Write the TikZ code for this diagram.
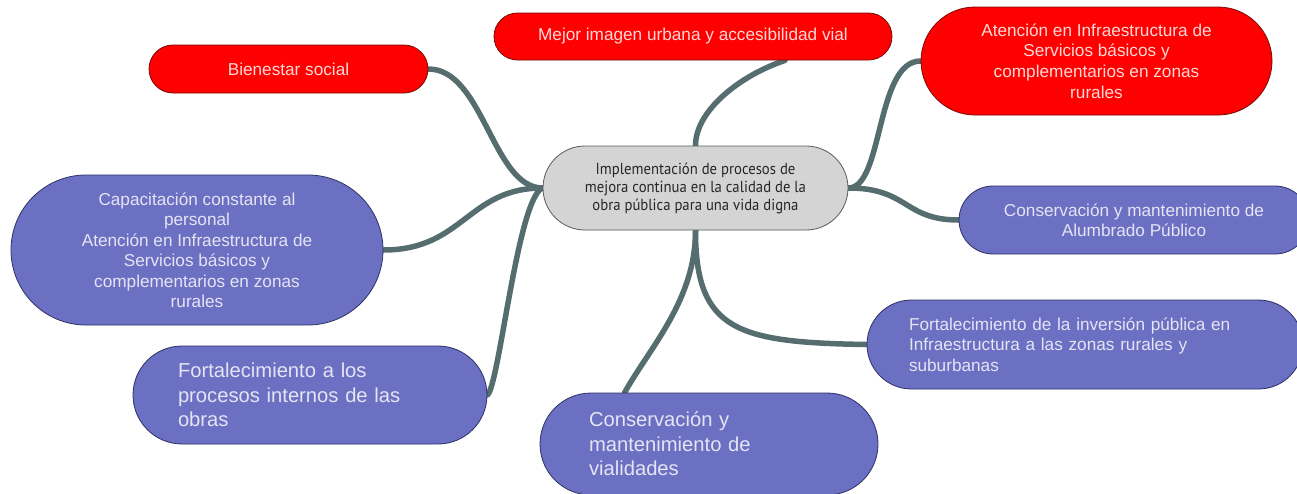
\documentclass[tikz,border=0pt]{standalone}
\usepackage{fontspec}
\setmainfont{Liberation Sans}
\newfontfamily\condfont[FakeStretch=0.92]{PT Sans}
\usetikzlibrary{calc,backgrounds}
\definecolor{redfill}{HTML}{FF0000}
\definecolor{redborder}{HTML}{7A0A0A}
\definecolor{redtext}{HTML}{FFD8D8}
\definecolor{bluefill}{HTML}{6B70C2}
\definecolor{blueborder}{HTML}{2E3166}
\definecolor{bluetext}{HTML}{E4E4F4}
\definecolor{greyfill}{HTML}{D4D4D4}
\definecolor{greyborder}{HTML}{5A5A5A}
\definecolor{linkcol}{HTML}{566D70}
\tikzset{
  pill/.style 2 args={rectangle, rounded corners=#2/2, minimum width=#1, minimum height=#2, inner sep=0pt},
  rednode/.style={draw=redborder, line width=0.8pt, fill=redfill, text=redtext, align=center, font=\fontsize{17.2}{20.8}\selectfont},
  bluenode/.style={draw=blueborder, line width=0.8pt, fill=bluefill, text=bluetext, font=\fontsize{17.2}{20.5}\selectfont},
  bigblue/.style={draw=blueborder, line width=0.8pt, fill=bluefill, text=bluetext, font=\fontsize{20.2}{24.5}\selectfont},
  centernode/.style={draw=greyborder, line width=0.8pt, fill=greyfill, text=black!85, align=center, font=\condfont\fontsize{16}{18}\selectfont},
  conn/.style={draw=linkcol, line width=5.5pt, line cap=round}
}
\begin{document}
\begin{tikzpicture}[x=1pt, y=-1pt]
\useasboundingbox (0,0) rectangle (1297,493);
% nodes
\node[pill={305}{84}, centernode] (c) at (695.5,188) {Implementación de procesos de\\mejora continua en la calidad de la\\obra pública para una vida digna};
\node[pill={279}{48}, rednode] (bs) at (288.5,69) {Bienestar social};
\node[pill={398}{47}, rednode] (mi) at (693,36.5) {Mejor imagen urbana y accesibilidad vial};
\node[pill={351}{108}, rednode] (at) at (1096.5,61) {Atención en Infraestructura de\\Servicios básicos y\\complementarios en zonas\\rurales};
\node[pill={372}{150}, bluenode, align=center] (cp) at (197,250) {Capacitación constante al\\personal\\Atención en Infraestructura de\\Servicios básicos y\\complementarios en zonas\\rurales};
\node[pill={350}{68}, bluenode, align=center] (al) at (1134,220) {Conservación y mantenimiento de\\Alumbrado Público};
\node[pill={436}{89}, bluenode, text width=352pt, align=left] (inv) at (1085,344.5) {Fortalecimiento de la inversión pública en\\Infraestructura a las zonas rurales y\\suburbanas};
\node[pill={354}{98}, bigblue, text width=264pt, align=left] (pr) at (310,395) {Fortalecimiento a los\\procesos internos de las\\obras};
\node[pill={338}{102}, bigblue, text width=240pt, align=left] (vi) at (709,444) {Conservación y\\mantenimiento de\\vialidades};
% connectors
\coordinate (miend) at ($(mi.south)+(92,0)$);
\coordinate (viend) at ($(vi.north west)+(85,0)$);
\begin{scope}[on background layer]
\draw[conn] (c.west) .. controls +(-50,0) and +(55,0) .. (bs.east);
\draw[conn] (c.west) .. controls +(-75,0) and +(80,0) .. (cp.east);
\draw[conn] (c.west) .. controls +(-25,10) and +(12,-10) .. (pr.east);
\draw[conn] (c.north) .. controls +(0,-35) and +(-45,15) .. (miend);
\draw[conn] (c.south) .. controls +(0,70) and +(25,-45) .. (viend);
\draw[conn] (c.south) .. controls +(0,100) and +(-130,-2) .. (inv.west);
\draw[conn] (c.east) .. controls +(35,0) and +(-45,0) .. (at.west);
\draw[conn] (c.east) .. controls +(60,0) and +(-55,0) .. (al.west);
\end{scope}
\end{tikzpicture}
\end{document}
